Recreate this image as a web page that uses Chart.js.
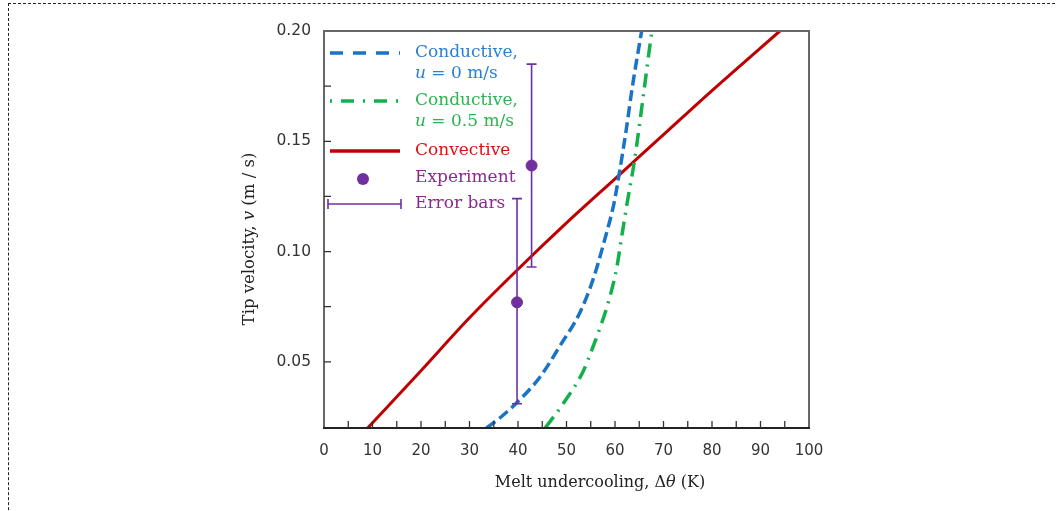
<!DOCTYPE html>
<html>
<head>
<meta charset="utf-8">
<title>Tip velocity vs melt undercooling</title>
<script src="https://cdn.jsdelivr.net/npm/chart.js@4.4.1/dist/chart.umd.min.js"></script>
<style>
    html, body { margin: 0; padding: 0; background: #fff; overflow: hidden; }
    #frame { position: absolute; left: 8px; top: 3px; width: 1100px; height: 600px; border: 1px dashed #222; }
    #wrap { position: absolute; left: 0; top: 0; width: 1056px; height: 511px; }
</style>
</head>
<body>
<div id="frame"></div>
<div id="wrap"><canvas id="chart"></canvas></div>
<script>
"use strict";

// data
const condX0 = [33.5, 36.5, 40, 44.5, 48.7, 52.8, 55.5, 57.9, 59.8, 61, 62.3, 63.6, 65.5, 66.2];
const condY0 = [0.02, 0.025, 0.032, 0.043, 0.0574, 0.0725, 0.0875, 0.1056, 0.122, 0.137, 0.155, 0.175, 0.200, 0.209];
const condX05 = [45.6, 49.3, 53.5, 55.5, 57.0, 58.5, 60.3, 61.4, 62.5, 64.0, 65.8, 67.6, 68.2];
const condY05 = [0.02, 0.031, 0.046, 0.057, 0.066, 0.076, 0.092, 0.107, 0.122, 0.141, 0.170, 0.200, 0.209];
const convX = [9, 20, 30, 40, 50, 60, 70, 80, 94];
const convY = [0.02, 0.046, 0.070, 0.092, 0.113, 0.133, 0.153, 0.173, 0.200];
const expX = [39.8, 42.8];
const expY = [0.077, 0.139];
const errLow = [0.031, 0.093];
const errHigh = [0.124, 0.185];
const xTicks = [0, 10, 20, 30, 40, 50, 60, 70, 80, 90, 100];
const yTicks = [0.05, 0.10, 0.15, 0.20];

const BLUE = '#1a73c4';
const GREEN = '#13b04b';
const RED = '#c00000';
const PURPLE = '#7030a0';
const SERIF = '"DejaVu Serif", serif';

/**
 * gör om två arrayer till {x, y}-punkter
 */
function toPoints(xs, ys) {
    return xs.map((x, i) => ({ x: x, y: ys[i] }));
}

/**
 * ram runt ritytan och små tickmarkeringar inåt
 */
const frameTicks = {
    id: 'frameTicks',
    afterDatasetsDraw(chart) {
        const { ctx, chartArea: a, scales } = chart;
        ctx.save();
        ctx.strokeStyle = '#666';
        ctx.lineWidth = 2;
        ctx.strokeRect(a.left, a.top, a.right - a.left, a.bottom - a.top);
        ctx.strokeStyle = '#222';
        ctx.beginPath();
        ctx.moveTo(a.left - 1, a.bottom);
        ctx.lineTo(a.right + 1, a.bottom);
        ctx.stroke();
        ctx.lineWidth = 1.3;
        ctx.strokeStyle = '#333';
        ctx.beginPath();
        scales.x.ticks.forEach(t => {
            const px = scales.x.getPixelForValue(t.value);
            if (t.value <= 0 || t.value >= 100) return;
            ctx.moveTo(px, a.bottom);
            ctx.lineTo(px, a.bottom - 7);
        });
        scales.y.ticks.forEach(t => {
            const py = scales.y.getPixelForValue(t.value);
            if (t.value <= 0.021 || t.value >= 0.199) return;
            ctx.moveTo(a.left, py);
            ctx.lineTo(a.left + 7, py);
        });
        ctx.stroke();
        ctx.restore();
    }
};

/**
 * felstaplar för experimentpunkterna
 */
const errorBars = {
    id: 'errorBars',
    afterDatasetsDraw(chart) {
        const { ctx, scales } = chart;
        ctx.save();
        ctx.strokeStyle = PURPLE;
        ctx.lineWidth = 1.6;
        ctx.beginPath();
        expX.forEach((x, i) => {
            const px = scales.x.getPixelForValue(x);
            const lo = scales.y.getPixelForValue(errLow[i]);
            const hi = scales.y.getPixelForValue(errHigh[i]);
            ctx.moveTo(px, lo); ctx.lineTo(px, hi);
            ctx.moveTo(px - 5, lo); ctx.lineTo(px + 5, lo);
            ctx.moveTo(px - 5, hi); ctx.lineTo(px + 5, hi);
        });
        ctx.stroke();
        ctx.restore();
    }
};

/**
 * skriver text där delar kan vara kursiva
 */
function drawParts(ctx, parts, x, y, color, size) {
    ctx.fillStyle = color;
    parts.forEach(p => {
        ctx.font = (p.italic ? 'italic ' : '') + size + 'px ' + SERIF;
        ctx.fillText(p.text, x, y);
        x += ctx.measureText(p.text).width;
    });
}

/**
 * bredd på text med kursiva delar
 */
function partsWidth(ctx, parts, size) {
    return parts.reduce((w, p) => {
        ctx.font = (p.italic ? 'italic ' : '') + size + 'px ' + SERIF;
        return w + ctx.measureText(p.text).width;
    }, 0);
}

/**
 * axeltitlar med kursiva symboler
 */
const axisTitles = {
    id: 'axisTitles',
    afterDraw(chart) {
        const { ctx, chartArea: a } = chart;
        const xParts = [{ text: 'Melt undercooling, Δ' }, { text: 'θ', italic: true }, { text: ' (K)' }];
        const yParts = [{ text: 'Tip velocity, ' }, { text: 'v', italic: true }, { text: ' (m / s)' }];
        ctx.save();
        ctx.textBaseline = 'middle';
        const xw = partsWidth(ctx, xParts, 16);
        drawParts(ctx, xParts, a.left + 276 - xw / 2, a.bottom + 55, '#222', 16);
        ctx.translate(a.left - 74, a.top + 208);
        ctx.rotate(-Math.PI / 2);
        const yw = partsWidth(ctx, yParts, 16.5);
        drawParts(ctx, yParts, -yw / 2, 0, '#222', 16.5);
        ctx.restore();
    }
};

/**
 * egen legend inne i ritytan
 */
const innerLegend = {
    id: 'innerLegend',
    afterDraw(chart) {
        const { ctx, chartArea: a } = chart;
        const x0 = a.left + 6, x1 = a.left + 76, tx = a.left + 91;
        ctx.save();
        ctx.textBaseline = 'middle';
        ctx.lineWidth = 3.5;

        ctx.strokeStyle = BLUE;
        ctx.setLineDash([13, 10]);
        ctx.beginPath(); ctx.moveTo(x0, a.top + 22); ctx.lineTo(x1, a.top + 22); ctx.stroke();
        drawParts(ctx, [{ text: 'Conductive,' }], tx, a.top + 22, '#2a7fd0', 17);
        drawParts(ctx, [{ text: 'u', italic: true }, { text: ' = 0 m/s' }], tx, a.top + 43, '#2a7fd0', 17);

        ctx.strokeStyle = GREEN;
        ctx.setLineDash([2, 9, 13, 9]);
        ctx.beginPath(); ctx.moveTo(x0, a.top + 70); ctx.lineTo(x1, a.top + 70); ctx.stroke();
        drawParts(ctx, [{ text: 'Conductive,' }], tx, a.top + 70, '#2db34f', 17);
        drawParts(ctx, [{ text: 'u', italic: true }, { text: ' = 0.5 m/s' }], tx, a.top + 91, '#2db34f', 17);

        ctx.setLineDash([]);
        ctx.strokeStyle = RED;
        ctx.beginPath(); ctx.moveTo(x0, a.top + 120); ctx.lineTo(x1, a.top + 120); ctx.stroke();
        drawParts(ctx, [{ text: 'Convective' }], tx, a.top + 120, '#e01010', 17);

        ctx.fillStyle = PURPLE;
        ctx.beginPath(); ctx.arc(a.left + 39, a.top + 148, 6, 0, Math.PI * 2); ctx.fill();
        drawParts(ctx, [{ text: 'Experiment' }], tx, a.top + 147, '#8a2a8e', 17);

        ctx.strokeStyle = PURPLE;
        ctx.lineWidth = 1.6;
        ctx.beginPath();
        ctx.moveTo(a.left + 4, a.top + 173); ctx.lineTo(a.left + 77, a.top + 173);
        ctx.moveTo(a.left + 4, a.top + 168); ctx.lineTo(a.left + 4, a.top + 178);
        ctx.moveTo(a.left + 77, a.top + 168); ctx.lineTo(a.left + 77, a.top + 178);
        ctx.stroke();
        drawParts(ctx, [{ text: 'Error bars' }], tx, a.top + 173, '#8a2a8e', 17);
        ctx.restore();
    }
};

/**
 * skapar diagrammet
 */
function createChart() {
    const ctx = document.getElementById('chart').getContext('2d');
    new Chart(ctx, {
        type: 'line',
        data: {
            datasets: [{
                label: 'Conductive, u = 0 m/s',
                data: toPoints(condX0, condY0),
                borderColor: BLUE,
                borderWidth: 3.5,
                borderDash: [11, 5],
                cubicInterpolationMode: 'monotone',
                pointRadius: 0
            }, {
                label: 'Conductive, u = 0.5 m/s',
                data: toPoints(condX05, condY05),
                borderColor: GREEN,
                borderWidth: 3.5,
                borderDash: [14, 7, 2, 7],
                cubicInterpolationMode: 'monotone',
                pointRadius: 0
            }, {
                label: 'Convective',
                data: toPoints(convX, convY),
                borderColor: RED,
                borderWidth: 3,
                cubicInterpolationMode: 'monotone',
                pointRadius: 0
            }, {
                label: 'Experiment',
                data: toPoints(expX, expY),
                showLine: false,
                pointRadius: 5.5,
                pointBackgroundColor: PURPLE,
                pointBorderColor: PURPLE
            }]
        },
        options: {
            responsive: true,
            maintainAspectRatio: false,
            animation: false,
            layout: { padding: { left: 240, right: 247, top: 31, bottom: 0 } },
            plugins: {
                legend: { display: false },
                tooltip: { enabled: false }
            },
            scales: {
                x: {
                    type: 'linear',
                    min: 0,
                    max: 100,
                    afterFit: s => { s.height = 83; },
                    grid: { display: false, drawTicks: false },
                    border: { display: false },
                    ticks: {
                        stepSize: 5,
                        padding: 14,
                        autoSkip: false,
                        maxRotation: 0,
                        color: '#333',
                        font: { family: '"DejaVu Sans"', size: 15 },
                        callback: v => xTicks.includes(v) ? String(v) : ''
                    }
                },
                y: {
                    min: 0.02,
                    max: 0.20,
                    afterFit: s => { s.width = 84; },
                    grid: { display: false, drawTicks: false },
                    border: { display: false },
                    ticks: {
                        stepSize: 0.025,
                        padding: 13,
                        autoSkip: false,
                        color: '#333',
                        font: { family: '"DejaVu Sans"', size: 15.5 },
                        callback: v => {
                            const hit = yTicks.find(t => Math.abs(t - v) < 1e-6);
                            return hit ? hit.toFixed(2) : '';
                        }
                    }
                }
            }
        },
        plugins: [frameTicks, errorBars, innerLegend, axisTitles]
    });
}

window.onload = () => {
    createChart();
};
</script>
</body>
</html>
